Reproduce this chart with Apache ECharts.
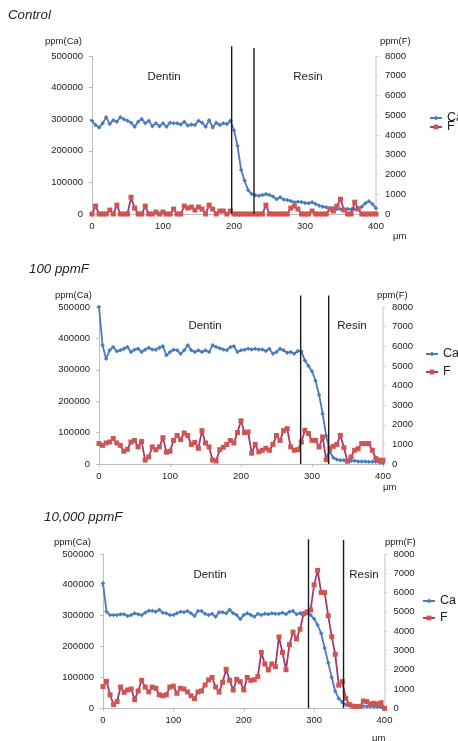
<!DOCTYPE html>
<html>
<head>
<meta charset="utf-8">
<script src="https://cdn.jsdelivr.net/npm/echarts@6/dist/echarts.min.js"></script>
<style>html,body{margin:0;padding:0;background:#fff}#c{width:458px;height:741px}</style>
</head>
<body>
<div id="c"></div>
<script>
// ---- data ----
const xs = [0,5,10,15,20,25,30,35,40,45,50,55,60,65,70,75,80,85,90,95,100,105,110,115,120,125,130,135,140,145,150,155,160,165,170,175,180,185,190,195,200,205,210,215,220,225,230,235,240,245,250,255,260,265,270,275,280,285,290,295,300,305,310,315,320,325,330,335,340,345,350,355,360,365,370,375,380,385,390,395,400];
const xTicks = [0,100,200,300,400];
const caTicks = [0,100000,200000,300000,400000,500000];
const fTicks = [0,1000,2000,3000,4000,5000,6000,7000,8000];
const panelTitles = ['Control','100 ppmF','10,000 ppmF'];
const seriesNames = ['Ca','F'];
const regionNames = ['Dentin','Resin'];

// Control
const caControl = [295000,282000,274000,287000,306000,285000,297000,292000,306000,300000,295000,289000,276000,292000,301000,287000,295000,278000,287000,278000,287000,276000,289000,287000,287000,283000,292000,280000,283000,282000,295000,289000,276000,297000,274000,289000,282000,287000,285000,295000,265000,215000,140000,105000,75000,63000,59000,58000,60000,63000,60000,55000,47000,53000,46000,44000,41000,37000,39000,38000,35000,34000,37000,32000,26000,23000,21000,19000,19000,16000,15000,15000,16000,15000,15000,19000,23000,34000,40000,32000,18000];
const fControl = [0,400,0,0,0,200,0,450,0,0,0,850,300,0,0,400,0,0,100,0,100,0,0,250,0,0,400,300,350,200,350,250,0,450,250,0,150,150,0,150,0,0,0,0,0,0,0,0,0,450,0,0,0,0,0,0,300,400,250,0,0,0,150,0,0,0,0,250,150,400,750,200,0,0,600,250,0,0,0,0,0];
const boundsControl = [196.7, 228.2];
const boundTopsControl = [531000, 525000];

// 100 ppmF
const ca100 = [500000,378000,335000,362000,373000,359000,362000,367000,373000,357000,364000,367000,357000,364000,370000,365000,364000,370000,375000,346000,357000,364000,362000,351000,362000,378000,362000,357000,362000,357000,362000,357000,378000,373000,369000,365000,362000,373000,375000,357000,362000,364000,367000,365000,367000,365000,365000,360000,367000,351000,357000,367000,362000,354000,357000,351000,360000,358000,330000,312000,295000,265000,220000,160000,90000,40000,20000,14000,12000,12000,11000,10000,10000,8000,8000,8000,7000,7000,7000,5000,3000];
const f100 = [1040,950,1070,1120,1300,1070,950,650,750,1120,1200,870,1150,200,360,870,730,870,1340,600,650,1200,1450,1250,1580,1450,1000,1100,800,1700,1070,870,200,150,730,850,1000,1200,1070,1600,2200,1600,1630,550,1000,620,700,800,700,1000,1450,1200,1700,1800,870,700,730,1120,1716,1550,1206,1206,870,1380,220,800,900,1000,1460,830,140,360,700,780,1040,1040,1040,700,270,190,190];
const bounds100 = [284, 323.5];
const boundTops100 = [537000, 537000];

// 10,000 ppmF
const ca10000 = [405000,313000,302000,302000,302000,305000,305000,299000,302000,308000,305000,302000,310000,316000,316000,313000,319000,310000,308000,302000,302000,308000,313000,311000,315000,308000,299000,315000,315000,306000,302000,306000,297000,311000,311000,308000,319000,308000,302000,289000,302000,308000,302000,297000,306000,302000,306000,305000,308000,306000,306000,310000,305000,313000,315000,305000,308000,308000,308000,302000,290000,270000,243000,195000,148000,100000,55000,32000,20000,12000,9000,8000,7000,7000,7000,6000,6000,6000,5000,4000,2000];
const f10000 = [1123,1400,700,200,350,1100,830,950,1000,450,900,1450,1100,850,1100,1040,700,650,700,1100,1150,780,1040,1000,850,650,500,850,900,1210,1470,1600,1100,840,1350,2020,1450,950,1500,1380,950,1600,1450,1480,1650,2900,2300,1990,2300,2160,3700,2900,2000,3300,3950,3600,4100,4900,5000,5100,6400,7150,6000,6000,4800,3715,2800,1200,1380,520,200,110,90,100,380,346,225,260,225,290,0];
const bounds10000 = [292, 341.8];
const boundTops10000 = [548000, 545000];

// ---- layout ----
const FONT = 'Liberation Sans, Arial, Helvetica, sans-serif';
const TXT = '#222';
const AX = '#bdbdbd';
const CA_COLOR = '#4a7ebb', CA_LINE = '#5077bf';
const F_COLOR = '#cf5552', F_LINE = '#a13a77';

const panels = [
  {ca: caControl, f: fControl, bounds: boundsControl, tops: boundTopsControl,
   grid: {left: 92, top: 56, width: 284, height: 158},
   title: [8, 15], caName: [82, 41], fName: [380, 41], um: [393, 236],
   dentin: [164, 77], resin: [308, 77], legCa: [429, 118], legF: [429, 127]},
  {ca: ca100, f: f100, bounds: bounds100, tops: boundTops100,
   grid: {left: 99, top: 307, width: 284, height: 157},
   title: [29, 269], caName: [92, 295], fName: [377, 295], um: [383, 487],
   dentin: [205, 326], resin: [352, 326], legCa: [425, 354], legF: [425, 372]},
  {ca: ca10000, f: f10000, bounds: bounds10000, tops: boundTops10000,
   grid: {left: 103, top: 554, width: 281.5, height: 154.3},
   title: [44, 517], caName: [91, 542], fName: [385, 542], um: [372, 738],
   dentin: [210, 575], resin: [364, 575], legCa: [422, 601], legF: [422, 618]}
];

const option = {
  animation: false,
  backgroundColor: '#fff',
  textStyle: {fontFamily: FONT},
  grid: [], xAxis: [], yAxis: [], series: [], legend: [], graphic: []
};

function txt(t, x, y, size, align, italic) {
  return {type: 'text', x: x, y: y, silent: true,
    style: {text: t, fill: TXT, fontSize: size, fontFamily: FONT,
      fontStyle: italic ? 'italic' : 'normal',
      align: align, textAlign: align, verticalAlign: 'middle', textVerticalAlign: 'middle'}};
}
const plain = v => String(v);

panels.forEach((p, i) => {
  option.grid.push(p.grid);
  option.xAxis.push({
    type: 'value', gridIndex: i, min: xTicks[0], max: xTicks[xTicks.length - 1], interval: xTicks[1] - xTicks[0],
    axisLine: {show: true, lineStyle: {color: AX, width: 1}},
    axisTick: {show: true, length: 3, lineStyle: {color: AX}},
    axisLabel: {color: TXT, fontSize: 9.5, margin: 7, fontFamily: FONT, formatter: plain},
    splitLine: {show: false}
  });
  option.yAxis.push({
    type: 'value', gridIndex: i, position: 'left', min: caTicks[0], max: caTicks[caTicks.length - 1], interval: caTicks[1] - caTicks[0],
    axisLine: {show: true, lineStyle: {color: AX, width: 1}},
    axisTick: {show: true, length: 3, lineStyle: {color: AX}},
    axisLabel: {color: TXT, fontSize: 9.5, margin: 9, fontFamily: FONT, formatter: plain},
    splitLine: {show: false}
  });
  option.yAxis.push({
    type: 'value', gridIndex: i, position: 'right', min: fTicks[0], max: fTicks[fTicks.length - 1], interval: fTicks[1] - fTicks[0],
    axisLine: {show: true, lineStyle: {color: '#d6d6d6', width: 1.5}},
    axisTick: {show: true, length: 3, lineStyle: {color: '#d6d6d6'}},
    axisLabel: {color: TXT, fontSize: 9.5, margin: 9, fontFamily: FONT, formatter: plain},
    splitLine: {show: false}
  });
  option.series.push({
    name: seriesNames[0], type: 'line', xAxisIndex: i, yAxisIndex: 2 * i,
    data: xs.map((x, k) => [x, p.ca[k]]),
    symbol: 'diamond', symbolSize: 4.5, showSymbol: true,
    itemStyle: {color: CA_COLOR}, lineStyle: {color: CA_LINE, width: 1.8}, z: 2
  });
  option.series.push({
    name: seriesNames[1], type: 'line', xAxisIndex: i, yAxisIndex: 2 * i + 1,
    data: xs.map((x, k) => [x, p.f[k]]),
    symbol: 'rect', symbolSize: 5, showSymbol: true,
    itemStyle: {color: F_COLOR}, lineStyle: {color: F_LINE, width: 1.8}, z: 3
  });
  p.bounds.forEach((b, j) => {
    option.series.push({
      name: 'boundary', type: 'line', xAxisIndex: i, yAxisIndex: 2 * i,
      data: [[b, p.tops[j]], [b, 0]], clip: false, symbol: 'none', silent: true,
      lineStyle: {color: '#1a1a1a', width: 1.4}, z: 5
    });
  });
  [[seriesNames[0], p.legCa], [seriesNames[1], p.legF]].forEach(([nm, pos]) => {
    option.legend.push({
      data: [nm], orient: 'vertical', left: pos[0], top: pos[1] - 7,
      itemWidth: 12, itemHeight: 6, itemGap: 0, padding: 0, itemTextGap: 1, selectedMode: false,
      textStyle: {color: TXT, fontSize: 12.5, fontFamily: FONT, lineHeight: 14}
    });
  });
  option.graphic.push(txt(panelTitles[i], p.title[0], p.title[1], 13.3, 'left', true));
  option.graphic.push(txt('ppm(Ca)', p.caName[0], p.caName[1], 9.5, 'right'));
  option.graphic.push(txt('ppm(F)', p.fName[0], p.fName[1], 9.5, 'left'));
  option.graphic.push(txt('μm', p.um[0], p.um[1], 9.5, 'left'));
  option.graphic.push(txt(regionNames[0], p.dentin[0], p.dentin[1], 11.5, 'center'));
  option.graphic.push(txt(regionNames[1], p.resin[0], p.resin[1], 11.5, 'center'));
});

const chart = echarts.init(document.getElementById('c'), null, {renderer: 'canvas'});
chart.setOption(option);
</script>
</body>
</html>
